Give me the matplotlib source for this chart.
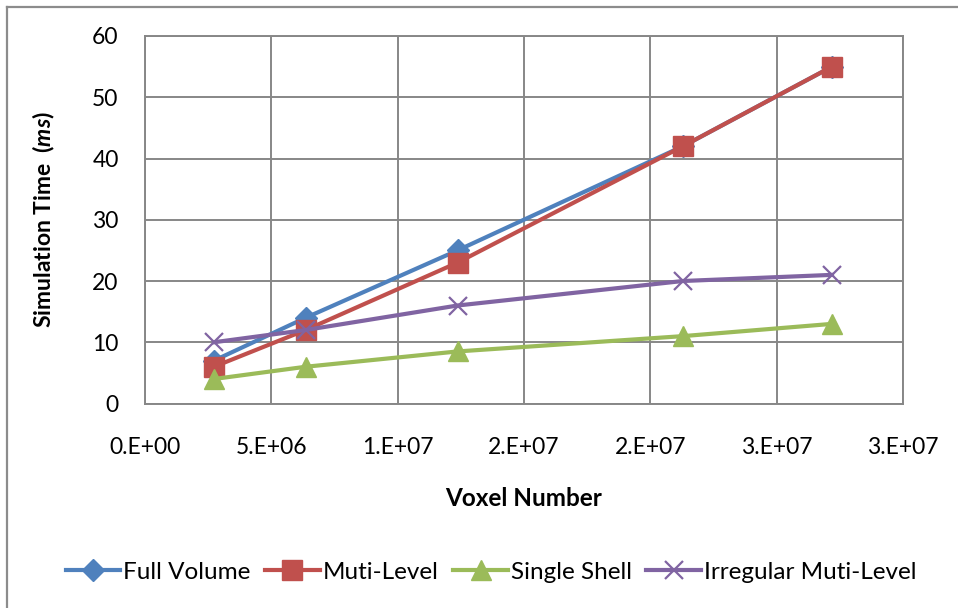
import matplotlib
matplotlib.use("Agg")
import matplotlib.pyplot as plt
from matplotlib.lines import Line2D

plt.rcParams['font.family'] = ['Lato', 'DejaVu Sans']
plt.rcParams['mathtext.fontset'] = 'custom'
plt.rcParams['mathtext.it'] = 'Lato:italic:bold'
plt.rcParams['mathtext.rm'] = 'Lato:bold'

# Voxel counts and simulation times (ms)
voxels = [2.73e6, 6.36e6, 12.37e6, 21.29e6, 27.19e6]
full_volume = [7, 14, 25, 42, 55]
muti_level = [6, 12, 23, 42, 55]
single_shell = [4, 6, 8.5, 11, 13]
irregular_muti_level = [10, 12, 16, 20, 21]

series_names = ["Full Volume", "Muti-Level", "Single Shell", "Irregular Muti-Level"]

x_ticks = [0, 5e6, 1e7, 1.5e7, 2e7, 2.5e7, 3e7]
x_tick_labels = ["0.E+00", "5.E+06", "1.E+07", "2.E+07", "2.E+07", "3.E+07", "3.E+07"]
y_ticks = [0, 10, 20, 30, 40, 50, 60]

W, H = 958, 608
fig = plt.figure(figsize=(W / 100, H / 100), dpi=100)
fig.patch.set_facecolor("white")

# chart-area frame (left and top edges)
border = "#8c8c8c"
fig.add_artist(Line2D([7 / W, 7 / W], [0, 1 - 7 / H], transform=fig.transFigure,
                      color=border, lw=1.6))
fig.add_artist(Line2D([7 / W, 1], [1 - 7 / H, 1 - 7 / H], transform=fig.transFigure,
                      color=border, lw=1.6))

left, right, top, bottom = 145, 903, 36, 403.5
ax = fig.add_axes([left / W, 1 - bottom / H, (right - left) / W, (bottom - top) / H])

grid_c = "#878787"
ax.set_xlim(0, 3e7)
ax.set_ylim(0, 60)
ax.set_xticks(x_ticks)
ax.set_xticklabels(x_tick_labels)
ax.set_yticks(y_ticks)
ax.grid(True, color=grid_c, lw=1.4)
ax.set_axisbelow(True)
for s in ax.spines.values():
    s.set_color(grid_c)
    s.set_linewidth(1.4)
ax.tick_params(axis='both', length=0, labelsize=16.5, colors="black")
ax.tick_params(axis='y', pad=19)
ax.tick_params(axis='x', pad=24)

styles = [
    dict(color="#4F81BD", marker="D", ms=11),
    dict(color="#C0504D", marker="s", ms=14),
    dict(color="#9BBB59", marker="^", ms=14),
    dict(color="#8064A2", marker="x", ms=13, mew=1.6),
]
data = [full_volume, muti_level, single_shell, irregular_muti_level]
for name, ys, st in zip(series_names, data, styles):
    ax.plot(voxels, ys, lw=3, label=name, clip_on=False, **st)

ax.set_ylabel(r"Simulation Time  ($\mathit{ms}$)", fontsize=16.5, fontweight="bold",
              labelpad=14)
ax.yaxis.set_label_coords(-(left - 57) / (right - left), 0.5)

fig.text((left + right) / 2 / W, 1 - 498 / H, "Voxel Number", ha="center", va="center",
         fontsize=17.5, fontweight="bold")

leg = fig.legend(loc="center", bbox_to_anchor=(491 / W, 1 - 572 / H), ncol=4,
                 frameon=False, fontsize=17.5, handlelength=2.25, handletextpad=0.12,
                 columnspacing=0.6, borderaxespad=0)

fig.savefig("out.png", dpi=100)
